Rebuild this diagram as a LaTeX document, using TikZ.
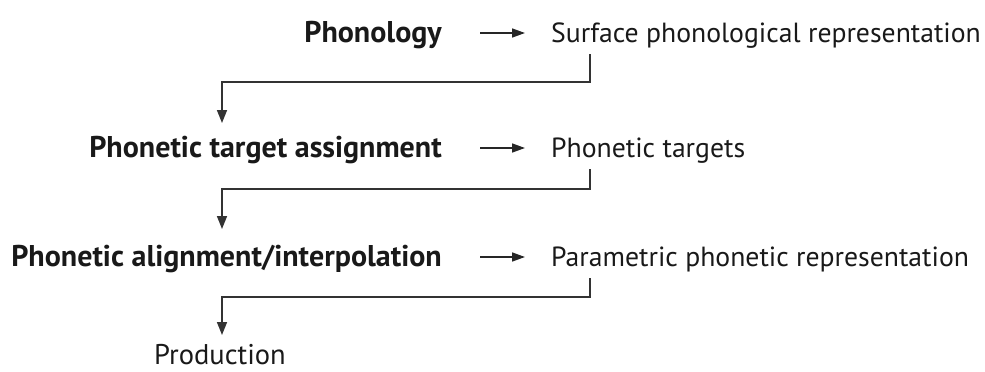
\documentclass[tikz,border=0pt]{standalone}
\usepackage{fontspec}
\setmainfont{PT Sans}
\usetikzlibrary{arrows.meta}
\begin{document}
\begin{tikzpicture}[x=1pt,y=-1pt,
 lbl/.style={inner sep=0pt, text=black!90, font=\fontsize{30}{32}\selectfont\bfseries},
 rbl/.style={inner sep=0pt, text=black!90, font=\fontsize{27.7}{30}\selectfont},
 conn/.style={line width=1.6pt, draw=black!80, -{Triangle[width=10pt,length=13pt]}},
 harrow/.style={line width=1.6pt, draw=black!85, -{Triangle[width=9pt,length=13pt]}},
]
\useasboundingbox (0,0) rectangle (985,372);
\node[lbl, anchor=base east] (p1) at (442,42) {Phonology};
\node[rbl, anchor=base west] (s1) at (551,42) {Surface phonological representation};
\node[lbl, anchor=base east] (p2) at (442,157) {Phonetic target assignment};
\node[rbl, anchor=base west] (s2) at (551,157) {Phonetic targets};
\node[lbl, anchor=base east] (p3) at (442,266) {Phonetic alignment/interpolation};
\node[rbl, anchor=base west] (s3) at (551,266) {Parametric phonetic representation};
\node[rbl, anchor=base, font=\fontsize{28.5}{30}\selectfont] (prod) at (220,364) {Production};

\draw[harrow] ([xshift=38pt,yshift=9pt]p1.base east) -- ([xshift=-26pt,yshift=9pt]s1.base west);
\draw[harrow] ([xshift=38pt,yshift=9pt]p2.base east) -- ([xshift=-26pt,yshift=9pt]s2.base west);
\draw[harrow] ([xshift=38pt,yshift=9pt]p3.base east) -- ([xshift=-26pt,yshift=9pt]s3.base west);

\coordinate (k1) at (222,82);
\coordinate (t1) at (222,123);
\coordinate (k2) at (222,189);
\coordinate (t2) at (222,229);
\coordinate (k3) at (222,297);
\coordinate (t3) at (222,335);
\draw[conn] ([xshift=39pt,yshift=-12pt]s1.base west) |- (k1) -- (t1);
\draw[conn] ([xshift=39pt,yshift=-12pt]s2.base west) |- (k2) -- (t2);
\draw[conn] ([xshift=39pt,yshift=-12pt]s3.base west) |- (k3) -- (t3);
\end{tikzpicture}
\end{document}
